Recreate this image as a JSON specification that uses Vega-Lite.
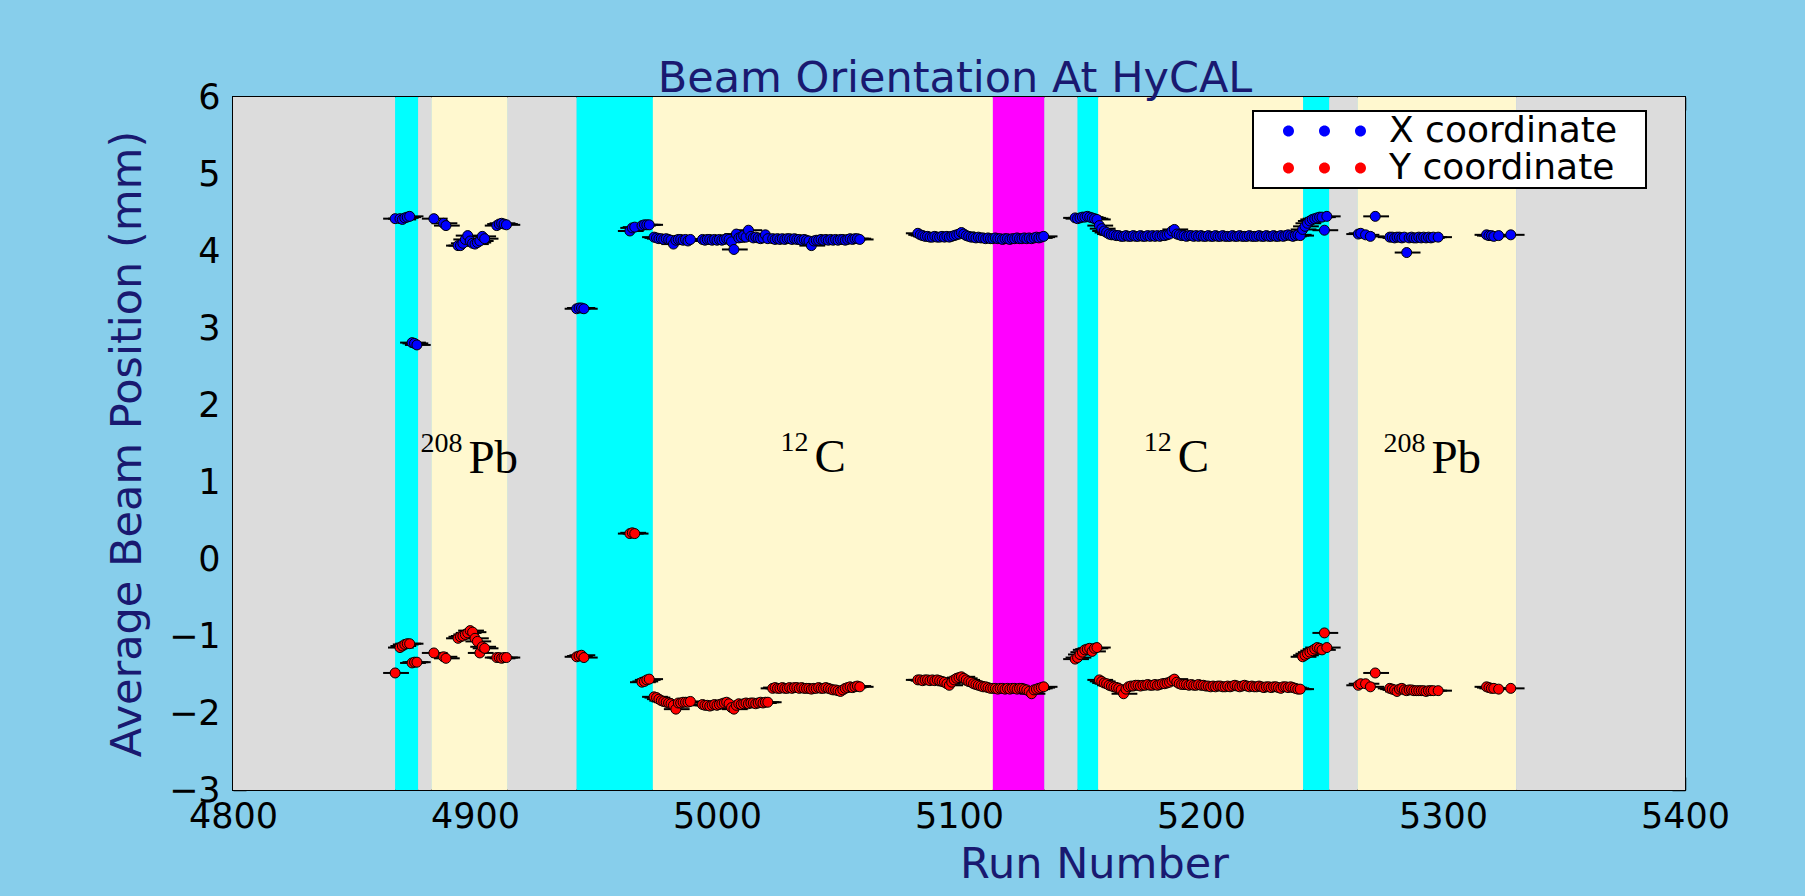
{
  "$schema": "https://vega.github.io/schema/vega-lite/v6.json",
  "width": 1452,
  "height": 693,
  "autosize": {"type": "none"},
  "padding": {"left": 233, "top": 97, "right": 120, "bottom": 106},
  "background": "#87ceeb",
  "title": {"text": "Beam Orientation At HyCAL", "color": "#191970", "font": "DejaVu Sans", "fontSize": 43, "fontWeight": "normal", "anchor": "middle", "baseline": "alphabetic", "offset": 5, "dx": -4, "dy": 60},
  "config": {
    "view": {"stroke": "black", "strokeWidth": 2},
    "legend": {"strokeWidth": 2},
    "axis": {"domain": false, "grid": false, "tickColor": "black", "tickWidth": 1.5, "tickSize": -13, "labelFont": "DejaVu Sans", "labelFontSize": 35, "labelColor": "black", "labelFlush": false, "labelOverlap": false, "titleFont": "DejaVu Sans", "titleFontSize": 43, "titleColor": "#191970", "titleFontWeight": "normal"}
  },
  "datasets": {
    "bands": [
      {"start": 4800, "end": 4867, "kind": "idle"},
      {"start": 4867, "end": 4876.5, "kind": "empty"},
      {"start": 4876.5, "end": 4882, "kind": "idle"},
      {"start": 4882, "end": 4913.5, "kind": "target"},
      {"start": 4913.5, "end": 4942, "kind": "idle"},
      {"start": 4942, "end": 4973.5, "kind": "empty"},
      {"start": 4973.5, "end": 5114, "kind": "target"},
      {"start": 5114, "end": 5135.3, "kind": "special"},
      {"start": 5135.3, "end": 5149, "kind": "idle"},
      {"start": 5149, "end": 5157.5, "kind": "empty"},
      {"start": 5157.5, "end": 5242.2, "kind": "target"},
      {"start": 5242.2, "end": 5253, "kind": "empty"},
      {"start": 5253, "end": 5264.7, "kind": "idle"},
      {"start": 5264.7, "end": 5330.2, "kind": "target"},
      {"start": 5330.2, "end": 5400, "kind": "idle"}
    ],
    "labels": [
      {"run": 4897.3, "pos": 1.117, "sup": "208", "sym": "Pb"},
      {"run": 5040.3, "pos": 1.125, "sup": "12", "sym": "C"},
      {"run": 5190.4, "pos": 1.125, "sup": "12", "sym": "C"},
      {"run": 5295.2, "pos": 1.117, "sup": "208", "sym": "Pb"}
    ],
    "pts": [
      {"run": 4867, "X": 4.42, "Y": -1.48},
      {"run": 4869, "X": 4.42, "Y": -1.15},
      {"run": 4870, "X": 4.41, "Y": -1.13},
      {"run": 4871, "X": 4.43, "Y": -1.11},
      {"run": 4872, "X": 4.44, "Y": -1.10},
      {"run": 4873, "X": 4.45, "Y": -1.10},
      {"run": 4874, "X": 2.81, "Y": -1.35},
      {"run": 4875, "X": 2.80, "Y": -1.34},
      {"run": 4876, "X": 2.78, "Y": -1.34},
      {"run": 4883, "X": 4.42, "Y": -1.22},
      {"run": 4887, "X": 4.36, "Y": -1.27},
      {"run": 4888, "X": 4.33, "Y": -1.29},
      {"run": 4893, "X": 4.07, "Y": -1.03},
      {"run": 4894, "X": 4.07, "Y": -1.01},
      {"run": 4895, "X": 4.10, "Y": -1.00},
      {"run": 4896, "X": 4.15, "Y": -0.98},
      {"run": 4897, "X": 4.20, "Y": -0.96},
      {"run": 4898, "X": 4.13, "Y": -0.93},
      {"run": 4899, "X": 4.10, "Y": -0.95},
      {"run": 4900, "X": 4.09, "Y": -1.03},
      {"run": 4901, "X": 4.11, "Y": -1.07},
      {"run": 4902, "X": 4.13, "Y": -1.22},
      {"run": 4903, "X": 4.19, "Y": -1.14},
      {"run": 4904, "X": 4.16, "Y": -1.16},
      {"run": 4909, "X": 4.33, "Y": -1.28},
      {"run": 4910, "X": 4.35, "Y": -1.28},
      {"run": 4911, "X": 4.36, "Y": -1.29},
      {"run": 4912, "X": 4.35, "Y": -1.28},
      {"run": 4913, "X": 4.34, "Y": -1.28},
      {"run": 4942, "X": 3.25, "Y": -1.27},
      {"run": 4943, "X": 3.26, "Y": -1.26},
      {"run": 4944, "X": 3.26, "Y": -1.25},
      {"run": 4945, "X": 3.25, "Y": -1.28},
      {"run": 4964, "X": 4.26, "Y": 0.33},
      {"run": 4965, "X": 4.30, "Y": 0.34},
      {"run": 4966, "X": 4.31, "Y": 0.33},
      {"run": 4969, "X": 4.33, "Y": -1.60},
      {"run": 4970, "X": 4.34, "Y": -1.59},
      {"run": 4971, "X": 4.34, "Y": -1.57},
      {"run": 4972, "X": 4.34, "Y": -1.56},
      {"run": 4974, "X": 4.18, "Y": -1.79},
      {"run": 4975, "X": 4.17, "Y": -1.80},
      {"run": 4976, "X": 4.16, "Y": -1.82},
      {"run": 4977, "X": 4.16, "Y": -1.84},
      {"run": 4978, "X": 4.15, "Y": -1.85},
      {"run": 4979, "X": 4.16, "Y": -1.86},
      {"run": 4980, "X": 4.15, "Y": -1.87},
      {"run": 4981, "X": 4.14, "Y": -1.88},
      {"run": 4982, "X": 4.09, "Y": -1.90},
      {"run": 4983, "X": 4.14, "Y": -1.95},
      {"run": 4984, "X": 4.15, "Y": -1.87},
      {"run": 4985, "X": 4.15, "Y": -1.87},
      {"run": 4986, "X": 4.14, "Y": -1.86},
      {"run": 4987, "X": 4.15, "Y": -1.86},
      {"run": 4988, "X": 4.13, "Y": -1.86},
      {"run": 4989, "X": 4.15, "Y": -1.85},
      {"run": 4994, "X": 4.15, "Y": -1.89},
      {"run": 4995, "X": 4.14, "Y": -1.90},
      {"run": 4996, "X": 4.15, "Y": -1.90},
      {"run": 4997, "X": 4.15, "Y": -1.91},
      {"run": 4998, "X": 4.14, "Y": -1.90},
      {"run": 4999, "X": 4.15, "Y": -1.89},
      {"run": 5000, "X": 4.14, "Y": -1.90},
      {"run": 5001, "X": 4.15, "Y": -1.89},
      {"run": 5002, "X": 4.14, "Y": -1.88},
      {"run": 5003, "X": 4.15, "Y": -1.87},
      {"run": 5004, "X": 4.16, "Y": -1.86},
      {"run": 5005, "X": 4.15, "Y": -1.88},
      {"run": 5006, "X": 4.12, "Y": -1.93},
      {"run": 5007, "X": 4.02, "Y": -1.95},
      {"run": 5008, "X": 4.22, "Y": -1.90},
      {"run": 5009, "X": 4.17, "Y": -1.88},
      {"run": 5010, "X": 4.18, "Y": -1.89},
      {"run": 5011, "X": 4.20, "Y": -1.88},
      {"run": 5012, "X": 4.18, "Y": -1.87},
      {"run": 5013, "X": 4.27, "Y": -1.88},
      {"run": 5014, "X": 4.19, "Y": -1.87},
      {"run": 5015, "X": 4.17, "Y": -1.87},
      {"run": 5016, "X": 4.18, "Y": -1.88},
      {"run": 5017, "X": 4.17, "Y": -1.87},
      {"run": 5018, "X": 4.16, "Y": -1.86},
      {"run": 5019, "X": 4.17, "Y": -1.87},
      {"run": 5020, "X": 4.21, "Y": -1.86},
      {"run": 5021, "X": 4.16, "Y": -1.86},
      {"run": 5023, "X": 4.16, "Y": -1.68},
      {"run": 5024, "X": 4.15, "Y": -1.67},
      {"run": 5025, "X": 4.16, "Y": -1.68},
      {"run": 5026, "X": 4.15, "Y": -1.68},
      {"run": 5027, "X": 4.16, "Y": -1.67},
      {"run": 5028, "X": 4.15, "Y": -1.68},
      {"run": 5029, "X": 4.16, "Y": -1.68},
      {"run": 5030, "X": 4.16, "Y": -1.67},
      {"run": 5031, "X": 4.15, "Y": -1.68},
      {"run": 5032, "X": 4.16, "Y": -1.67},
      {"run": 5033, "X": 4.15, "Y": -1.67},
      {"run": 5034, "X": 4.15, "Y": -1.68},
      {"run": 5035, "X": 4.14, "Y": -1.67},
      {"run": 5036, "X": 4.15, "Y": -1.68},
      {"run": 5037, "X": 4.14, "Y": -1.68},
      {"run": 5038, "X": 4.13, "Y": -1.68},
      {"run": 5039, "X": 4.07, "Y": -1.69},
      {"run": 5040, "X": 4.13, "Y": -1.68},
      {"run": 5041, "X": 4.14, "Y": -1.68},
      {"run": 5042, "X": 4.14, "Y": -1.67},
      {"run": 5043, "X": 4.15, "Y": -1.68},
      {"run": 5044, "X": 4.14, "Y": -1.68},
      {"run": 5045, "X": 4.15, "Y": -1.67},
      {"run": 5046, "X": 4.14, "Y": -1.68},
      {"run": 5047, "X": 4.15, "Y": -1.69},
      {"run": 5048, "X": 4.14, "Y": -1.70},
      {"run": 5049, "X": 4.15, "Y": -1.70},
      {"run": 5050, "X": 4.14, "Y": -1.71},
      {"run": 5051, "X": 4.15, "Y": -1.72},
      {"run": 5052, "X": 4.15, "Y": -1.70},
      {"run": 5053, "X": 4.14, "Y": -1.68},
      {"run": 5054, "X": 4.15, "Y": -1.67},
      {"run": 5055, "X": 4.16, "Y": -1.66},
      {"run": 5056, "X": 4.15, "Y": -1.67},
      {"run": 5057, "X": 4.16, "Y": -1.66},
      {"run": 5058, "X": 4.16, "Y": -1.65},
      {"run": 5059, "X": 4.15, "Y": -1.66},
      {"run": 5083, "X": 4.23, "Y": -1.57},
      {"run": 5084, "X": 4.21, "Y": -1.57},
      {"run": 5085, "X": 4.20, "Y": -1.58},
      {"run": 5086, "X": 4.19, "Y": -1.57},
      {"run": 5087, "X": 4.19, "Y": -1.57},
      {"run": 5088, "X": 4.18, "Y": -1.58},
      {"run": 5089, "X": 4.18, "Y": -1.57},
      {"run": 5090, "X": 4.19, "Y": -1.58},
      {"run": 5091, "X": 4.18, "Y": -1.57},
      {"run": 5092, "X": 4.18, "Y": -1.58},
      {"run": 5093, "X": 4.19, "Y": -1.59},
      {"run": 5094, "X": 4.18, "Y": -1.60},
      {"run": 5095, "X": 4.19, "Y": -1.62},
      {"run": 5096, "X": 4.18, "Y": -1.64},
      {"run": 5097, "X": 4.19, "Y": -1.60},
      {"run": 5098, "X": 4.20, "Y": -1.57},
      {"run": 5099, "X": 4.21, "Y": -1.55},
      {"run": 5100, "X": 4.22, "Y": -1.54},
      {"run": 5101, "X": 4.24, "Y": -1.53},
      {"run": 5102, "X": 4.22, "Y": -1.55},
      {"run": 5103, "X": 4.20, "Y": -1.57},
      {"run": 5104, "X": 4.19, "Y": -1.59},
      {"run": 5105, "X": 4.18, "Y": -1.60},
      {"run": 5106, "X": 4.18, "Y": -1.62},
      {"run": 5107, "X": 4.17, "Y": -1.63},
      {"run": 5108, "X": 4.18, "Y": -1.64},
      {"run": 5109, "X": 4.17, "Y": -1.65},
      {"run": 5110, "X": 4.17, "Y": -1.66},
      {"run": 5111, "X": 4.16, "Y": -1.66},
      {"run": 5112, "X": 4.17, "Y": -1.67},
      {"run": 5113, "X": 4.16, "Y": -1.68},
      {"run": 5114, "X": 4.16, "Y": -1.68},
      {"run": 5115, "X": 4.17, "Y": -1.68},
      {"run": 5116, "X": 4.16, "Y": -1.69},
      {"run": 5117, "X": 4.16, "Y": -1.68},
      {"run": 5118, "X": 4.15, "Y": -1.68},
      {"run": 5119, "X": 4.16, "Y": -1.69},
      {"run": 5120, "X": 4.16, "Y": -1.68},
      {"run": 5121, "X": 4.15, "Y": -1.69},
      {"run": 5122, "X": 4.16, "Y": -1.68},
      {"run": 5123, "X": 4.16, "Y": -1.68},
      {"run": 5124, "X": 4.17, "Y": -1.69},
      {"run": 5125, "X": 4.16, "Y": -1.68},
      {"run": 5126, "X": 4.16, "Y": -1.68},
      {"run": 5127, "X": 4.17, "Y": -1.69},
      {"run": 5128, "X": 4.16, "Y": -1.70},
      {"run": 5129, "X": 4.17, "Y": -1.72},
      {"run": 5130, "X": 4.16, "Y": -1.75},
      {"run": 5131, "X": 4.17, "Y": -1.70},
      {"run": 5132, "X": 4.18, "Y": -1.69},
      {"run": 5133, "X": 4.17, "Y": -1.68},
      {"run": 5134, "X": 4.18, "Y": -1.67},
      {"run": 5135, "X": 4.19, "Y": -1.66},
      {"run": 5148, "X": 4.43, "Y": -1.30},
      {"run": 5149, "X": 4.42, "Y": -1.28},
      {"run": 5150, "X": 4.43, "Y": -1.24},
      {"run": 5151, "X": 4.44, "Y": -1.21},
      {"run": 5152, "X": 4.44, "Y": -1.18},
      {"run": 5153, "X": 4.45, "Y": -1.17},
      {"run": 5154, "X": 4.44, "Y": -1.16},
      {"run": 5155, "X": 4.43, "Y": -1.20},
      {"run": 5156, "X": 4.42, "Y": -1.16},
      {"run": 5157, "X": 4.41, "Y": -1.15},
      {"run": 5158, "X": 4.33, "Y": -1.57},
      {"run": 5159, "X": 4.29, "Y": -1.59},
      {"run": 5160, "X": 4.26, "Y": -1.61},
      {"run": 5161, "X": 4.24, "Y": -1.62},
      {"run": 5162, "X": 4.22, "Y": -1.64},
      {"run": 5163, "X": 4.21, "Y": -1.65},
      {"run": 5164, "X": 4.21, "Y": -1.66},
      {"run": 5165, "X": 4.20, "Y": -1.67},
      {"run": 5166, "X": 4.20, "Y": -1.68},
      {"run": 5167, "X": 4.19, "Y": -1.70},
      {"run": 5168, "X": 4.19, "Y": -1.75},
      {"run": 5169, "X": 4.20, "Y": -1.69},
      {"run": 5170, "X": 4.19, "Y": -1.66},
      {"run": 5171, "X": 4.19, "Y": -1.65},
      {"run": 5172, "X": 4.20, "Y": -1.65},
      {"run": 5173, "X": 4.19, "Y": -1.64},
      {"run": 5174, "X": 4.19, "Y": -1.64},
      {"run": 5175, "X": 4.20, "Y": -1.65},
      {"run": 5176, "X": 4.19, "Y": -1.64},
      {"run": 5177, "X": 4.19, "Y": -1.64},
      {"run": 5178, "X": 4.20, "Y": -1.63},
      {"run": 5179, "X": 4.19, "Y": -1.64},
      {"run": 5180, "X": 4.20, "Y": -1.64},
      {"run": 5181, "X": 4.19, "Y": -1.63},
      {"run": 5182, "X": 4.20, "Y": -1.64},
      {"run": 5183, "X": 4.19, "Y": -1.63},
      {"run": 5184, "X": 4.20, "Y": -1.62},
      {"run": 5185, "X": 4.20, "Y": -1.62},
      {"run": 5186, "X": 4.21, "Y": -1.61},
      {"run": 5187, "X": 4.22, "Y": -1.60},
      {"run": 5188, "X": 4.26, "Y": -1.58},
      {"run": 5189, "X": 4.28, "Y": -1.56},
      {"run": 5190, "X": 4.22, "Y": -1.60},
      {"run": 5191, "X": 4.21, "Y": -1.62},
      {"run": 5192, "X": 4.20, "Y": -1.63},
      {"run": 5193, "X": 4.20, "Y": -1.63},
      {"run": 5194, "X": 4.19, "Y": -1.63},
      {"run": 5195, "X": 4.20, "Y": -1.64},
      {"run": 5196, "X": 4.20, "Y": -1.63},
      {"run": 5197, "X": 4.19, "Y": -1.64},
      {"run": 5198, "X": 4.20, "Y": -1.64},
      {"run": 5199, "X": 4.19, "Y": -1.63},
      {"run": 5200, "X": 4.20, "Y": -1.64},
      {"run": 5201, "X": 4.19, "Y": -1.64},
      {"run": 5202, "X": 4.19, "Y": -1.65},
      {"run": 5203, "X": 4.20, "Y": -1.65},
      {"run": 5204, "X": 4.19, "Y": -1.66},
      {"run": 5205, "X": 4.19, "Y": -1.65},
      {"run": 5206, "X": 4.20, "Y": -1.66},
      {"run": 5207, "X": 4.19, "Y": -1.65},
      {"run": 5208, "X": 4.19, "Y": -1.65},
      {"run": 5209, "X": 4.20, "Y": -1.66},
      {"run": 5210, "X": 4.19, "Y": -1.66},
      {"run": 5211, "X": 4.19, "Y": -1.65},
      {"run": 5212, "X": 4.19, "Y": -1.66},
      {"run": 5213, "X": 4.20, "Y": -1.65},
      {"run": 5214, "X": 4.19, "Y": -1.64},
      {"run": 5215, "X": 4.19, "Y": -1.65},
      {"run": 5216, "X": 4.20, "Y": -1.66},
      {"run": 5217, "X": 4.19, "Y": -1.65},
      {"run": 5218, "X": 4.19, "Y": -1.64},
      {"run": 5219, "X": 4.19, "Y": -1.65},
      {"run": 5220, "X": 4.20, "Y": -1.66},
      {"run": 5221, "X": 4.19, "Y": -1.65},
      {"run": 5222, "X": 4.19, "Y": -1.66},
      {"run": 5223, "X": 4.19, "Y": -1.66},
      {"run": 5224, "X": 4.20, "Y": -1.65},
      {"run": 5225, "X": 4.19, "Y": -1.66},
      {"run": 5226, "X": 4.19, "Y": -1.67},
      {"run": 5227, "X": 4.20, "Y": -1.66},
      {"run": 5228, "X": 4.19, "Y": -1.66},
      {"run": 5229, "X": 4.19, "Y": -1.67},
      {"run": 5230, "X": 4.20, "Y": -1.66},
      {"run": 5231, "X": 4.19, "Y": -1.66},
      {"run": 5232, "X": 4.19, "Y": -1.67},
      {"run": 5233, "X": 4.20, "Y": -1.68},
      {"run": 5234, "X": 4.19, "Y": -1.66},
      {"run": 5235, "X": 4.20, "Y": -1.66},
      {"run": 5236, "X": 4.21, "Y": -1.67},
      {"run": 5237, "X": 4.20, "Y": -1.66},
      {"run": 5238, "X": 4.19, "Y": -1.67},
      {"run": 5239, "X": 4.20, "Y": -1.68},
      {"run": 5240, "X": 4.21, "Y": -1.69},
      {"run": 5241, "X": 4.20, "Y": -1.69},
      {"run": 5242, "X": 4.28, "Y": -1.27},
      {"run": 5243, "X": 4.32, "Y": -1.25},
      {"run": 5244, "X": 4.36, "Y": -1.23},
      {"run": 5245, "X": 4.39, "Y": -1.21},
      {"run": 5246, "X": 4.41, "Y": -1.19},
      {"run": 5247, "X": 4.42, "Y": -1.17},
      {"run": 5248, "X": 4.43, "Y": -1.15},
      {"run": 5249, "X": 4.44, "Y": -1.16},
      {"run": 5250, "X": 4.44, "Y": -1.18},
      {"run": 5251, "X": 4.27, "Y": -0.96},
      {"run": 5252, "X": 4.45, "Y": -1.15},
      {"run": 5265, "X": 4.22, "Y": -1.64},
      {"run": 5266, "X": 4.23, "Y": -1.62},
      {"run": 5268, "X": 4.21, "Y": -1.62},
      {"run": 5270, "X": 4.19, "Y": -1.66},
      {"run": 5272, "X": 4.45, "Y": -1.48},
      {"run": 5278, "X": 4.18, "Y": -1.68},
      {"run": 5279, "X": 4.18, "Y": -1.69},
      {"run": 5280, "X": 4.17, "Y": -1.70},
      {"run": 5281, "X": 4.18, "Y": -1.72},
      {"run": 5282, "X": 4.18, "Y": -1.69},
      {"run": 5283, "X": 4.17, "Y": -1.68},
      {"run": 5284, "X": 4.18, "Y": -1.70},
      {"run": 5285, "X": 3.98, "Y": -1.71},
      {"run": 5286, "X": 4.17, "Y": -1.70},
      {"run": 5287, "X": 4.18, "Y": -1.70},
      {"run": 5288, "X": 4.17, "Y": -1.71},
      {"run": 5289, "X": 4.17, "Y": -1.71},
      {"run": 5290, "X": 4.18, "Y": -1.71},
      {"run": 5291, "X": 4.17, "Y": -1.71},
      {"run": 5292, "X": 4.18, "Y": -1.71},
      {"run": 5293, "X": 4.17, "Y": -1.72},
      {"run": 5294, "X": 4.18, "Y": -1.71},
      {"run": 5295, "X": 4.17, "Y": -1.71},
      {"run": 5296, "X": 4.18, "Y": -1.71},
      {"run": 5298, "X": 4.18, "Y": -1.71},
      {"run": 5318, "X": 4.21, "Y": -1.66},
      {"run": 5319, "X": 4.20, "Y": -1.67},
      {"run": 5320, "X": 4.20, "Y": -1.68},
      {"run": 5321, "X": 4.19, "Y": -1.68},
      {"run": 5323, "X": 4.20, "Y": -1.69},
      {"run": 5328, "X": 4.21, "Y": -1.68}
    ]
  },
  "layer": [
    {
      "data": {"name": "bands"},
      "mark": {"type": "rect", "strokeWidth": 0},
      "encoding": {
        "x": {"field": "start", "type": "quantitative", "scale": {"domain": [4800, 5400], "nice": false, "zero": false}, "axis": null},
        "x2": {"field": "end"},
        "color": {"field": "kind", "type": "nominal", "scale": {"domain": ["idle", "empty", "target", "special"], "range": ["#dcdcdc", "#00ffff", "#fff8cf", "#ff00ff"]}, "legend": null}
      }
    },
    {
      "data": {"name": "pts"},
      "transform": [{"fold": ["X", "Y"], "as": ["coord", "value"]}],
      "mark": {"type": "point", "shape": "M -1,0 L 1.15,0", "size": 576, "filled": false, "stroke": "black", "strokeWidth": 2, "opacity": 1},
      "encoding": {
        "x": {"field": "run", "type": "quantitative", "axis": null},
        "y": {"field": "value", "type": "quantitative", "scale": {"domain": [-3, 6], "nice": false, "zero": false}, "axis": null}
      }
    },
    {
      "data": {"name": "pts"},
      "transform": [{"fold": ["X", "Y"], "as": ["coord", "value"]}],
      "mark": {"type": "point", "shape": "circle", "size": 100, "filled": true, "stroke": "black", "strokeWidth": 1, "opacity": 1},
      "encoding": {
        "x": {"field": "run", "type": "quantitative", "axis": {"orient": "bottom", "title": "Run Number", "values": [4800, 4900, 5000, 5100, 5200, 5300, 5400], "format": "d", "labelPadding": 22, "titleX": 861, "titleY": 87, "titleBaseline": "alphabetic", "titleAlign": "center"}},
        "y": {"field": "value", "type": "quantitative", "axis": {"orient": "left", "title": "Average Beam Position (mm)", "values": [-3, -2, -1, 0, 1, 2, 3, 4, 5, 6], "format": "d", "labelPadding": 26, "titleX": -93, "titleY": 346.5, "titleBaseline": "alphabetic", "titleAngle": -90, "titleAlign": "center"}},
        "color": {
          "field": "coord", "type": "nominal",
          "scale": {"domain": ["X", "Y"], "range": ["#0000ff", "#ff0000"]},
          "legend": {
            "title": null, "orient": "none", "legendX": 1020, "legendY": 14,
            "fillColor": "white", "strokeColor": "black", "padding": 2,
            "symbolType": "M 2.0,0 A 1.1,1.1 0 1,1 4.2,0 A 1.1,1.1 0 1,1 2.0,0 Z M 9.2,0 A 1.1,1.1 0 1,1 11.4,0 A 1.1,1.1 0 1,1 9.2,0 Z M 16.4,0 A 1.1,1.1 0 1,1 18.6,0 A 1.1,1.1 0 1,1 16.4,0 Z",
            "symbolSize": 100, "symbolStrokeWidth": 0, "symbolOpacity": 1,
            "labelFont": "DejaVu Sans", "labelFontSize": 36, "labelColor": "black", "labelOffset": 98, "labelLimit": 600,
            "labelExpr": "datum.label + ' coordinate\u2800'", "rowPadding": 1
          }
        }
      }
    },
    {
      "data": {"name": "labels"},
      "mark": {"type": "text", "font": "Liberation Serif", "fontSize": 28, "align": "right", "baseline": "alphabetic", "dx": -6, "dy": -21, "color": "black"},
      "encoding": {
        "x": {"field": "run", "type": "quantitative", "axis": {"orient": "top", "labels": false, "title": null, "values": [4800, 4900, 5000, 5100, 5200, 5300, 5400]}},
        "y": {"field": "pos", "type": "quantitative", "axis": {"orient": "right", "labels": false, "title": null, "values": [-3, -2, -1, 0, 1, 2, 3, 4, 5, 6]}},
        "text": {"field": "sup"}
      }
    },
    {
      "data": {"name": "labels"},
      "mark": {"type": "text", "font": "Liberation Serif", "fontSize": 47, "align": "left", "baseline": "alphabetic", "color": "black"},
      "encoding": {
        "x": {"field": "run", "type": "quantitative", "axis": null},
        "y": {"field": "pos", "type": "quantitative", "axis": null},
        "text": {"field": "sym"}
      }
    }
  ],
  "resolve": {"axis": {"x": "independent", "y": "independent"}, "scale": {"color": "independent"}}
}
